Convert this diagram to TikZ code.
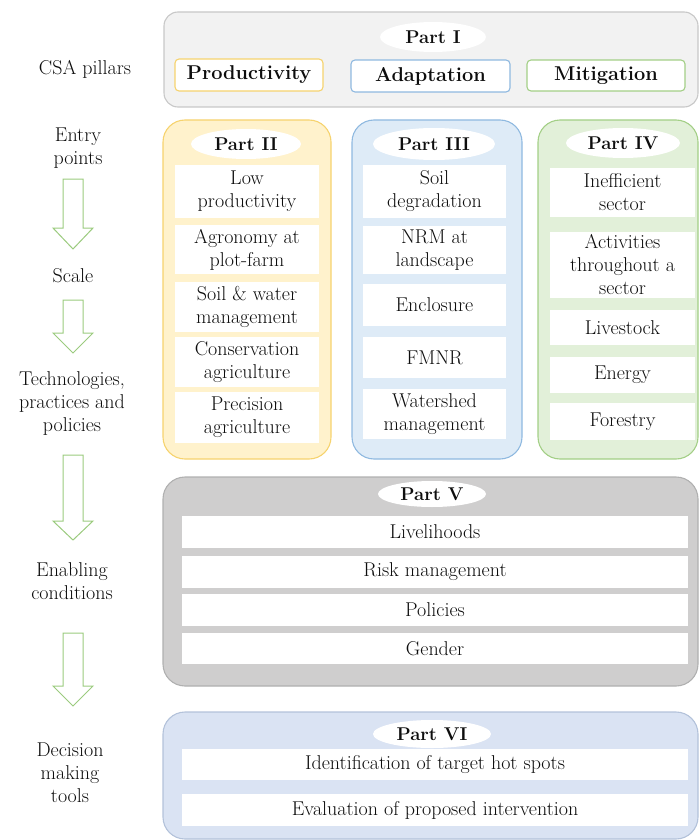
\documentclass[tikz,border=0pt]{standalone}
\usetikzlibrary{shapes.geometric}
\definecolor{txt}{HTML}{0D0D0D}
\definecolor{g1fill}{HTML}{F2F2F2}
\definecolor{g1line}{HTML}{C8C8C8}
\definecolor{yfill}{HTML}{FFF2CC}
\definecolor{yline}{HTML}{F6D36E}
\definecolor{bfill}{HTML}{DEEBF7}
\definecolor{bline}{HTML}{8FB9E0}
\definecolor{gfill}{HTML}{E2F0D9}
\definecolor{gline}{HTML}{A3CF86}
\definecolor{vfill}{HTML}{CFCECE}
\definecolor{vline}{HTML}{B0B0B0}
\definecolor{sfill}{HTML}{DAE3F3}
\definecolor{sline}{HTML}{B3C2DA}
\definecolor{arr}{HTML}{9BCB7E}
\tikzset{
  bodyfont/.style={font=\fontsize{20}{23}\selectfont, text=txt},
  outer/.style={draw=#1, line width=1.1pt, rounded corners=22pt, inner sep=0pt},
  partlbl/.style={ellipse, fill=white, draw=none, inner sep=0pt, font=\bfseries\fontsize{18.5}{22}\selectfont, text=txt},
  rowbox/.style={fill=white, draw=none, inner sep=0pt, align=center, bodyfont},
  pillar/.style={fill=white, draw=#1, line width=1.1pt, rounded corners=4pt, inner sep=0pt, font=\bfseries\fontsize{20}{24}\selectfont, text=txt},
  sidelbl/.style={align=center, bodyfont, inner sep=0pt},
  blockarrow/.style={draw=arr, fill=white, line width=1pt, line join=miter}
}
\begin{document}
\begin{tikzpicture}[x=1pt, y=-1pt]
\useasboundingbox (0,0) rectangle (699,840);

% ---------- Part I ----------
\node[outer=g1line, fill=g1fill, rounded corners=14pt, minimum width=534pt, minimum height=95pt] (p1) at (431,59.5) {};
\node[partlbl, minimum width=106pt, minimum height=30pt] (p1l) at (433,37) {Part I};
\node[pillar=yline, minimum width=148pt, minimum height=32pt] (prod) at (249,75) {Productivity};
\node[pillar=bline, minimum width=159pt, minimum height=32pt] (adap) at (430.5,76) {Adaptation};
\node[pillar=gline, minimum width=158pt, minimum height=31pt] (miti) at (606,75.5) {Mitigation};

% ---------- Part II ----------
\node[outer=yline, fill=yfill, minimum width=168pt, minimum height=339pt] (p2) at (247,289.5) {};
\node[partlbl, minimum width=110pt, minimum height=30pt] (p2l) at (246,144) {Part II};
\node[rowbox, minimum width=144pt, minimum height=53pt] (p2a) at (247,191.5) {Low\\productivity};
\node[rowbox, minimum width=144pt, minimum height=49pt] (p2b) at (247,249.5) {Agronomy at\\plot-farm};
\node[rowbox, minimum width=144pt, minimum height=50pt] (p2c) at (247,307) {Soil \& water\\management};
\node[rowbox, minimum width=144pt, minimum height=50pt] (p2d) at (247,362) {Conservation\\agriculture};
\node[rowbox, minimum width=144pt, minimum height=51pt] (p2e) at (247,417.5) {Precision\\agriculture};

% ---------- Part III ----------
\node[outer=bline, fill=bfill, minimum width=170pt, minimum height=339pt] (p3) at (437,289.5) {};
\node[partlbl, minimum width=122pt, minimum height=32pt] (p3l) at (434,144) {Part III};
\node[rowbox, minimum width=143pt, minimum height=53pt] (p3a) at (434.5,191.5) {Soil\\degradation};
\node[rowbox, minimum width=143pt, minimum height=48pt] (p3b) at (434.5,250) {NRM at\\landscape};
\node[rowbox, minimum width=143pt, minimum height=42pt] (p3c) at (434.5,305) {Enclosure};
\node[rowbox, minimum width=143pt, minimum height=41pt] (p3d) at (434.5,357.5) {FMNR};
\node[rowbox, minimum width=143pt, minimum height=50pt] (p3e) at (434.5,414) {Watershed\\management};

% ---------- Part IV ----------
\node[outer=gline, fill=gfill, minimum width=160pt, minimum height=339pt] (p4) at (618,289.5) {};
\node[partlbl, minimum width=114pt, minimum height=30pt] (p4l) at (623,143) {Part IV};
\node[rowbox, minimum width=145pt, minimum height=49pt] (p4a) at (622.5,192.5) {Inefficient\\sector};
\node[rowbox, minimum width=145pt, minimum height=66pt] (p4b) at (622.5,265) {Activities\\throughout a\\sector};
\node[rowbox, minimum width=145pt, minimum height=35pt] (p4c) at (622.5,327.5) {Livestock};
\node[rowbox, minimum width=145pt, minimum height=36pt] (p4d) at (622.5,375) {Energy};
\node[rowbox, minimum width=145pt, minimum height=37pt] (p4e) at (622.5,421.5) {Forestry};

% ---------- Part V ----------
\node[outer=vline, fill=vfill, minimum width=535pt, minimum height=209pt] (p5) at (430.5,581.5) {};
\node[partlbl, minimum width=108pt, minimum height=26pt] (p5l) at (432,494) {Part V};
\node[rowbox, minimum width=506pt, minimum height=32pt] (p5a) at (435,532) {Livelihoods};
\node[rowbox, minimum width=506pt, minimum height=32pt] (p5b) at (435,572) {Risk management};
\node[rowbox, minimum width=506pt, minimum height=32pt] (p5c) at (435,610) {Policies};
\node[rowbox, minimum width=506pt, minimum height=31pt] (p5d) at (435,648.5) {Gender};

% ---------- Part VI ----------
\node[outer=sline, fill=sfill, minimum width=535pt, minimum height=127pt] (p6) at (430.5,775.5) {};
\node[partlbl, minimum width=118pt, minimum height=28pt] (p6l) at (432,734) {Part VI};
\node[rowbox, minimum width=506pt, minimum height=31pt] (p6a) at (435,764.5) {Identification of target hot spots};
\node[rowbox, minimum width=506pt, minimum height=32pt] (p6b) at (435,810) {Evaluation of proposed intervention};

% ---------- Left column ----------
\node[sidelbl] (csa) at (85,69) {CSA pillars};
\node[sidelbl] (entry) at (78,148) {Entry\\points};
\node[sidelbl] (scale) at (73,276) {Scale};
\node[sidelbl] (tech) at (72,404) {Technologies,\\practices and\\policies};
\node[sidelbl] (enab) at (72,581) {Enabling\\conditions};
\node[sidelbl] (deci) at (70,773) {Decision\\making\\tools};

% block arrows
\draw[blockarrow] (63,179) -- (83,179) -- (83,228) -- (93,228) -- (73,249) -- (53,228) -- (63,228) -- cycle;
\draw[blockarrow] (63,300) -- (83,300) -- (83,333) -- (93,333) -- (73,353) -- (53,333) -- (63,333) -- cycle;
\draw[blockarrow] (63,455) -- (83,455) -- (83,521) -- (93,521) -- (73,540) -- (53,521) -- (63,521) -- cycle;
\draw[blockarrow] (63,633) -- (83,633) -- (83,686) -- (93,686) -- (73,706) -- (53,686) -- (63,686) -- cycle;
\end{tikzpicture}
\end{document}
